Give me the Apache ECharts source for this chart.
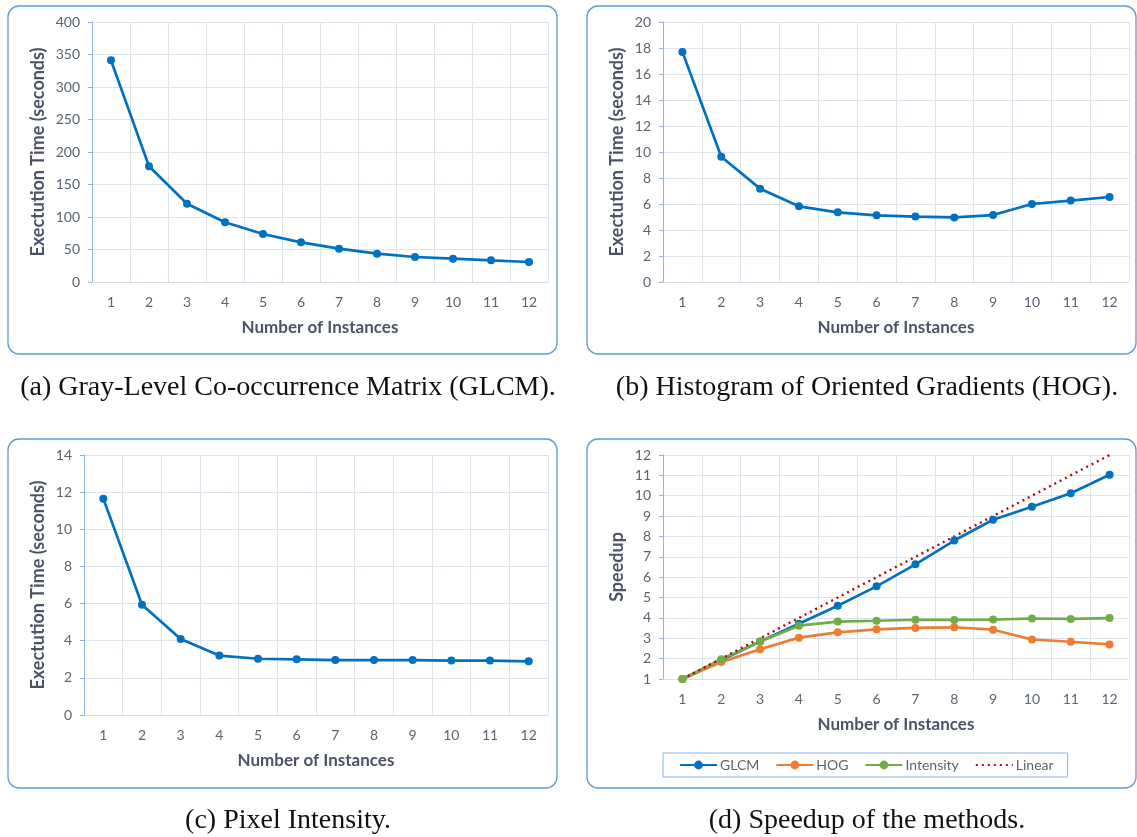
<!DOCTYPE html>
<html>
<head>
<meta charset="utf-8">
<script src="https://cdn.jsdelivr.net/npm/echarts@6/dist/echarts.min.js"></script>
<style>
html,body{margin:0;padding:0;background:#fff;}
#chart{width:1137px;height:837px;}
</style>
</head>
<body>
<div id="chart"></div>
<script>
// ---- data ----
var categories = ['1','2','3','4','5','6','7','8','9','10','11','12'];
var glcmTime = [341, 178, 120.5, 91.8, 73.8, 61, 51.3, 43.6, 38.5, 35.9, 33.3, 30.8];
var hogTime = [17.7, 9.64, 7.18, 5.82, 5.36, 5.13, 5.03, 4.97, 5.15, 6.0, 6.26, 6.54];
var intensityTime = [11.65, 5.94, 4.09, 3.2, 3.03, 3.0, 2.96, 2.96, 2.96, 2.93, 2.93, 2.89];
var glcmSpeedup = [1, 1.92, 2.84, 3.71, 4.6, 5.55, 6.63, 7.8, 8.82, 9.46, 10.12, 11.03];
var hogSpeedup = [1, 1.83, 2.46, 3.03, 3.29, 3.44, 3.51, 3.54, 3.42, 2.94, 2.83, 2.7];
var intensitySpeedup = [1, 1.97, 2.84, 3.62, 3.82, 3.86, 3.91, 3.9, 3.92, 3.97, 3.95, 3.99];
var linearSpeedup = [1, 2, 3, 4, 5, 6, 7, 8, 9, 10, 11, 12];
var legendNames = ['GLCM', 'HOG', 'Intensity', 'Linear'];
var captions = ['(a) Gray-Level Co-occurrence Matrix (GLCM).', '(b) Histogram of Oriented Gradients (HOG).', '(c) Pixel Intensity.', '(d) Speedup of the methods.'];
var xName = 'Number of Instances';
var yTimeName = 'Exectution Time (seconds)';
var ySpeedName = 'Speedup';
// y ranges: [min, max, interval]
var yRangeA = [0, 400, 50];
var yRangeB = [0, 20, 2];
var yRangeC = [0, 14, 2];
var yRangeD = [1, 12, 1];

// ---- styles ----
var FONT = 'Lato';
var tickColor = '#5b6473';
var titleColor = '#4b5365';
var gridColor = '#dde3ec';
var axisBlue = '#8db3e2';
var BLUE = '#0070c0', ORANGE = '#ed7d31', GREEN = '#70ad47', RED = '#c00000';

var grids = [
  {left: 92, top: 22, width: 456, height: 260},
  {left: 663, top: 22, width: 466, height: 260},
  {left: 84, top: 455, width: 464, height: 260},
  {left: 663, top: 455, width: 466, height: 224}
];

function xAxisFor(i) {
  return {
    type: 'category', gridIndex: i, data: categories, boundaryGap: true,
    name: xName, nameLocation: 'middle', nameGap: 37,
    nameTextStyle: {fontFamily: FONT, fontSize: 17, fontWeight: 'bold', color: titleColor},
    axisLine: {show: true, lineStyle: {color: '#d6dbe3', width: 1}},
    axisTick: {show: false},
    axisLabel: {fontFamily: FONT, fontSize: 14, color: tickColor, margin: 13, interval: 0},
    splitLine: {show: true, lineStyle: {color: gridColor, width: 1}}
  };
}
function yAxisFor(i, r, name, gap) {
  return {
    type: 'value', gridIndex: i, min: r[0], max: r[1], interval: r[2],
    name: name, nameLocation: 'middle', nameGap: gap,
    nameTextStyle: {fontFamily: FONT, fontSize: 18, fontWeight: 'bold', color: titleColor},
    axisLine: {show: true, lineStyle: {color: axisBlue, width: 1}},
    axisTick: {show: true, inside: false, length: 4, lineStyle: {color: axisBlue}},
    axisLabel: {fontFamily: FONT, fontSize: 14, color: tickColor, margin: 12},
    splitLine: {show: true, lineStyle: {color: gridColor, width: 1}}
  };
}
function lineSeries(name, data, idx, color) {
  return {
    name: name, type: 'line', xAxisIndex: idx, yAxisIndex: idx, data: data,
    symbol: 'circle', symbolSize: 8, showSymbol: true,
    lineStyle: {color: color, width: 2.7}, itemStyle: {color: color},
    emphasis: {disabled: true}, animation: false
  };
}

var panels = [
  {x: 8, y: 6, w: 549, h: 348},
  {x: 587, y: 6, w: 549, h: 348},
  {x: 8, y: 439, w: 549, h: 349},
  {x: 587, y: 439, w: 549, h: 349}
];
var capPos = [[283, 369], [862, 369], [283, 802], [862, 802]];

var option = {
  backgroundColor: '#ffffff',
  animation: false,
  title: captions.map(function (c, i) {
    return {
      text: c, left: capPos[i][0], top: capPos[i][1], textAlign: 'center',
      textStyle: {fontFamily: 'Liberation Serif', fontSize: 28, fontWeight: 'normal', color: '#111111'}
    };
  }),
  graphic: panels.map(function (p) {
    return {
      type: 'rect', silent: true, z: -1,
      shape: {x: p.x, y: p.y, width: p.w, height: p.h, r: 11},
      style: {fill: 'none', stroke: '#5b9bd5', lineWidth: 1.3}
    };
  }),
  grid: grids,
  xAxis: [xAxisFor(0), xAxisFor(1), xAxisFor(2), xAxisFor(3)],
  yAxis: [
    yAxisFor(0, yRangeA, yTimeName, 45),
    yAxisFor(1, yRangeB, yTimeName, 37),
    yAxisFor(2, yRangeC, yTimeName, 37),
    yAxisFor(3, yRangeD, ySpeedName, 37)
  ],
  legend: {
    data: [
      {name: legendNames[0]}, {name: legendNames[1]}, {name: legendNames[2]},
      {name: legendNames[3], itemStyle: {color: 'rgba(0,0,0,0)', borderWidth: 0}}
    ],
    left: 663, top: 753,
    orient: 'horizontal',
    padding: [5, 14, 5, 16],
    itemWidth: 37, itemHeight: 11, itemGap: 16,
    borderColor: '#8db3e2', borderWidth: 1,
    textStyle: {fontFamily: FONT, fontSize: 14, color: tickColor, padding: [0, 0, 0, -2]},
    selectedMode: false
  },
  series: [
    lineSeries('GLCM time', glcmTime, 0, BLUE),
    lineSeries('HOG time', hogTime, 1, BLUE),
    lineSeries('Intensity time', intensityTime, 2, BLUE),
    lineSeries('GLCM', glcmSpeedup, 3, BLUE),
    lineSeries('HOG', hogSpeedup, 3, ORANGE),
    lineSeries('Intensity', intensitySpeedup, 3, GREEN),
    {
      name: 'Linear', type: 'line', xAxisIndex: 3, yAxisIndex: 3, data: linearSpeedup,
      symbol: 'none', showSymbol: false,
      lineStyle: {color: RED, width: 2.4, type: [2, 4]}, itemStyle: {color: RED},
      emphasis: {disabled: true}, z: 3
    }
  ]
};

var chart = echarts.init(document.getElementById('chart'), null, {renderer: 'canvas'});
chart.setOption(option);
</script>
</body>
</html>
